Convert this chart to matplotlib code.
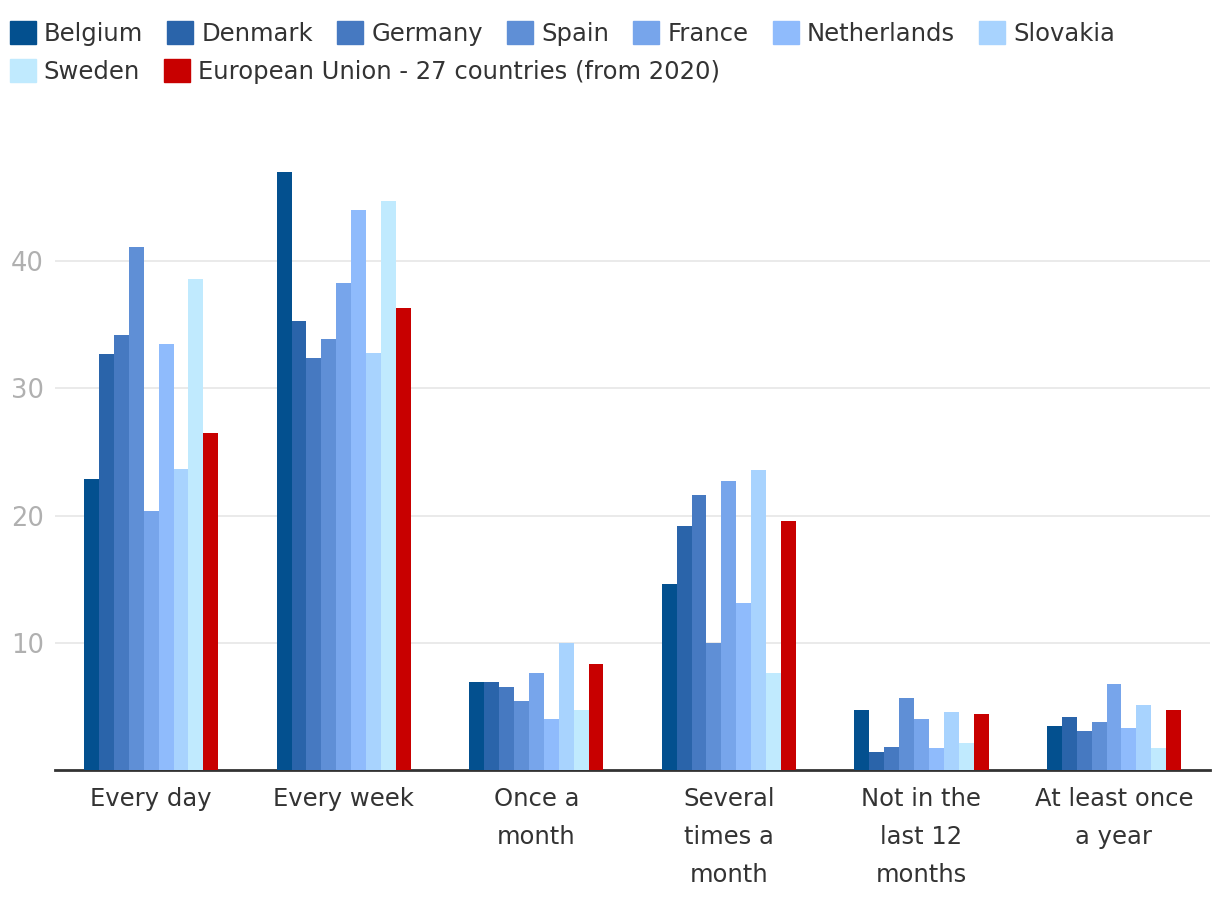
import numpy as np
import matplotlib
matplotlib.use('Agg')
from matplotlib import pyplot as plt
from matplotlib.patches import Patch

plt.rcParams['font.family'] = ['DejaVu Sans']

categories = ['Every day', 'Every week', 'Once a\nmonth', 'Several\ntimes a\nmonth',
              'Not in the\nlast 12\nmonths', 'At least once\na year']
countries = ['Belgium', 'Denmark', 'Germany', 'Spain', 'France', 'Netherlands',
             'Slovakia', 'Sweden', 'European Union - 27 countries (from 2020)']

belgium = [22.9, 47.0, 6.9, 14.6, 4.7, 3.5]
denmark = [32.7, 35.3, 6.9, 19.2, 1.4, 4.2]
germany = [34.2, 32.4, 6.5, 21.6, 1.8, 3.1]
spain = [41.1, 33.9, 5.4, 10.0, 5.7, 3.8]
france = [20.4, 38.3, 7.6, 22.7, 4.0, 6.8]
netherlands = [33.5, 44.0, 4.0, 13.1, 1.7, 3.3]
slovakia = [23.7, 32.8, 10.0, 23.6, 4.6, 5.1]
sweden = [38.6, 44.7, 4.7, 7.6, 2.1, 1.7]
eu27 = [26.5, 36.3, 8.3, 19.6, 4.4, 4.7]

series = [belgium, denmark, germany, spain, france, netherlands, slovakia, sweden, eu27]
colors = ['#03508f', '#2a64aa', '#4679c1', '#5f8fd6', '#77a5eb', '#8fbbfc',
          '#a8d3fe', '#c0eafe', '#c80000']

fig = plt.figure(figsize=(12.2, 9.1), dpi=100)
ax = fig.add_axes([0.045, 0.1538, 0.947, 0.699])

x = np.arange(len(categories))
w = 0.0775
for i, (vals, c) in enumerate(zip(series, colors)):
    ax.bar(x + (i - 4) * w, vals, width=w, color=c, label=countries[i], zorder=3)

ax.set_xlim(-0.5, len(categories) - 0.5)
ax.set_ylim(0, 50)
ax.set_yticks([10, 20, 30, 40])
ax.grid(axis='y', color='#e6e6e6', linewidth=1.2, zorder=0)
ax.set_xticks(x)
ax.set_xticklabels(categories, fontsize=17.5, color='#333333', linespacing=1.75)
ax.tick_params(axis='x', length=0, pad=12)
ax.tick_params(axis='y', length=0, labelsize=18.5, labelcolor='#b0b0b0', pad=8)
for s in ['top', 'right', 'left']:
    ax.spines[s].set_visible(False)
ax.spines['bottom'].set_color('#333333')
ax.spines['bottom'].set_linewidth(2)

handles = [Patch(color=c) for c in colors]
leg_kw = dict(frameon=False, fontsize=17.5, handlelength=1.07, handleheight=1.07,
              handletextpad=0.33, columnspacing=1.0, borderaxespad=0, borderpad=0,
              labelcolor='#333333')
leg1 = fig.legend(handles[:7], countries[:7], ncol=7, loc='upper left',
                  bbox_to_anchor=(0.008, 0.977), **leg_kw)
leg2 = fig.legend(handles[7:], countries[7:], ncol=2, loc='upper left',
                  bbox_to_anchor=(0.008, 0.935), **leg_kw)

fig.savefig('out.png', dpi=100)
